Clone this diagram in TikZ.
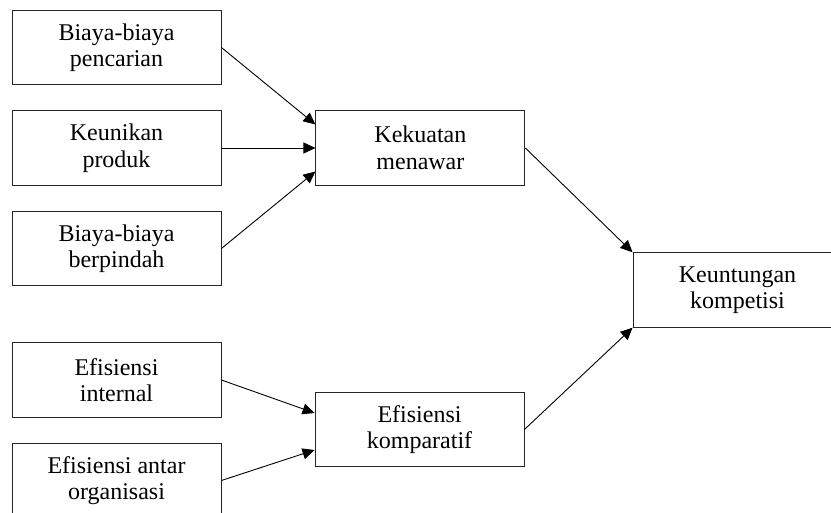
\documentclass[tikz,border=0pt]{standalone}
\usepackage{fontspec}
\setmainfont{Liberation Serif}
\usetikzlibrary{arrows.meta}
\usetikzlibrary{positioning}

\begin{document}
\begin{tikzpicture}[x=1pt,y=-1pt,auto,node distance=25.1pt,line width=0.9pt,>={Triangle[length=12pt,width=11pt]}]
				\tikzstyle{kotak}=[draw=black!85, rectangle, minimum width=209pt, minimum height=74.5pt, inner sep=0pt, align=center, font=\fontsize{24}{26.5}\selectfont]
				\useasboundingbox (0,0) rectangle (831,513);
				\clip (0,0) rectangle (831,513);
						\node[kotak] (A) at (116.5,47.5) {Biaya-biaya\\pencarian};
						\node[kotak] (B) [below=of A] {Keunikan\\produk};
						\node[kotak] (C) [below=of B] {Biaya-biaya\\berpindah};
						\node[kotak] (D) [below=56.1pt of C] {Efisiensi\\internal};
						\node[kotak] (E) [below=of D] {Efisiensi antar\\organisasi};
						\node[kotak] (K) [right=94pt of B] {Kekuatan\\menawar};
						\node[kotak] (F) at (419.5,429.5) {Efisiensi\\komparatif};
						\node[kotak] (G) at (737.5,290) {Keuntungan\\kompetisi};
						
						\path[->]
							(A.east) edge ([yshift=23.5pt]K.west)
							(B.east) edge (K.west)
							(C.east) edge ([yshift=-23.5pt]K.west)
							(D.east) edge ([yshift=16.5pt]F.west)
							(E.east) edge ([yshift=-20.5pt]F.west)
							(K.east) edge (G.north west)
							(F.east) edge (G.south west);
\end{tikzpicture}
\end{document}
